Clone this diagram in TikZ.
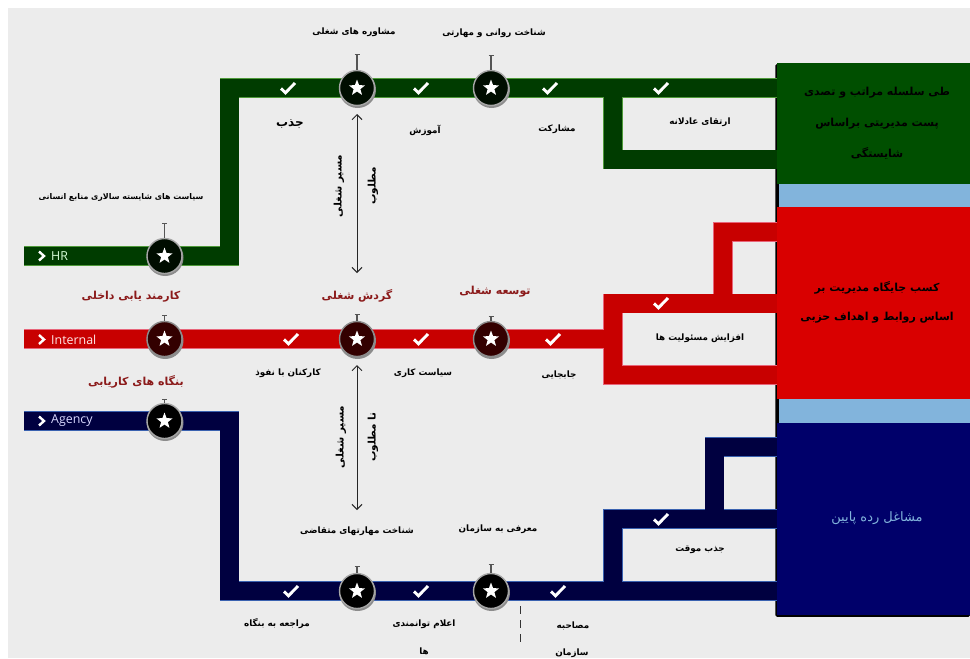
\documentclass[tikz,border=0pt]{standalone}
\usepackage{fontspec}
\usetikzlibrary{shapes.geometric,arrows.meta}
\TeXXeTstate=1
\newfontfamily\arabicfont[Script=Arabic]{DejaVu Sans}
\setsansfont{Open Sans}
\newcommand{\fa}[1]{\beginR #1\endR}
\definecolor{pagegrey}{HTML}{ECECEC}
\definecolor{gband}{HTML}{003C00}
\definecolor{gedge}{HTML}{4F9A3A}
\definecolor{gbox}{HTML}{004F00}
\definecolor{rband}{HTML}{C80000}
\definecolor{redge}{HTML}{E8657A}
\definecolor{rbox}{HTML}{D90000}
\definecolor{nband}{HTML}{000040}
\definecolor{nedge}{HTML}{3A62B0}
\definecolor{nbox}{HTML}{00006A}
\definecolor{lblue}{HTML}{82B4DC}
\definecolor{rlabel}{HTML}{8B1A1A}
\definecolor{stemgrey}{HTML}{555555}
\tikzset{
  x=1pt,y=-1pt,
  band/.style={line width=18.4pt,line cap=butt,line join=miter},
  bandedge/.style={line width=19.2pt,line cap=butt,line join=miter},
  goalbox/.style={draw=none,minimum width=193pt,inner sep=0pt,anchor=north west,align=center,text width=185pt},
  starcircle/.style={circle,minimum size=35pt,inner sep=0pt,draw=#1,line width=1.4pt},
  starmark/.style={star,star points=5,star point ratio=2.4,fill=white,draw=none,minimum size=17pt,inner sep=0pt},
  stem/.style={draw=stemgrey,line width=1.3pt,{Bar[width=5pt,length=0.8pt]}-},
  label/.style={font=\arabicfont\bfseries\fontsize{8.8}{10}\selectfont,inner sep=0pt,text=black},
  redlabel/.style={label,text=rlabel,font=\arabicfont\bfseries\fontsize{11}{13}\selectfont},
  boxlabel/.style={label,font=\arabicfont\bfseries\fontsize{11}{13}\selectfont},
  sidelabel/.style={label,rotate=90,font=\arabicfont\bfseries\fontsize{10.4}{12}\selectfont},
  routetag/.style={font=\sffamily\fontsize{12.4}{14}\selectfont,text=#1,inner sep=0pt,anchor=west},
  checkmark/.pic={\draw[white,line width=2.9pt,line cap=butt,line join=miter] (-7,0.5) -- (-2.5,4.8) -- (7,-5);},
  chev/.pic={\draw[white,line width=2.4pt] (-2.5,-4.5) -- (2.5,0) -- (-2.5,4.5);},
  careerarrow/.style={draw=black!85,line width=1pt,{Straight Barb[length=5pt,width=10pt]}-{Straight Barb[length=5pt,width=10pt]}}
}
\newcommand{\greenroutes}[1]{%
  \draw[#1] (gs) -- (gc1) -- (gc2) -- (gbox.west |- gc2);
  \draw[#1] (gb1) -- (gb2) -- (gbox.west |- gb2);}
\newcommand{\redroutes}[1]{%
  \draw[#1] (rs) -- (rb0) -- (rb1) -- (rbox.west |- rb1);
  \draw[#1] (rb0) -- (rb2) -- (rbox.west |- rb2);
  \draw[#1] (rb3) -- (rb4) -- (rbox.west |- rb4);}
\newcommand{\navyroutes}[1]{%
  \draw[#1] (ns) -- (nc1) -- (nc2) -- (nbox.west |- nc2);
  \draw[#1] (nb0) -- (nb1) -- (nbox.west |- nb1);
  \draw[#1] (nb3) -- (nb4) -- (nbox.west |- nb4);}
\begin{document}
\begin{tikzpicture}
\useasboundingbox (0,0) rectangle (970,659);
\fill[pagegrey] (8,8) rectangle (970,658);
% route coordinates
\coordinate (gs) at (24,256);\coordinate (gc1) at (229.6,256);\coordinate (gc2) at (229.6,88);
\coordinate (gb1) at (613,88);\coordinate (gb2) at (613,159.5);
\coordinate (rs) at (24,339);\coordinate (rb0) at (613,339);\coordinate (rb1) at (613,303.3);\coordinate (rb2) at (613,375);
\coordinate (rb3) at (723,303.3);\coordinate (rb4) at (723,232);
\coordinate (ns) at (24,421);\coordinate (nc1) at (229.6,421);\coordinate (nc2) at (229.6,591);
\coordinate (nb0) at (613,591);\coordinate (nb1) at (613,519);
\coordinate (nb3) at (714.3,519);\coordinate (nb4) at (714.3,447);
% goal boxes
\fill[black,rounded corners=1.5pt] (775.4,64) rectangle (970,616.8);
\node[goalbox,fill=gbox,minimum height=121pt] (gbox) at (777,63) {};
\node[goalbox,fill=lblue,minimum width=191pt,minimum height=23pt] (bluea) at (779,184) {};
\node[goalbox,fill=rbox,minimum height=192pt] (rbox) at (777,207) {};
\node[goalbox,fill=lblue,minimum width=191pt,minimum height=24pt] (blueb) at (779,399) {};
\node[goalbox,fill=nbox,minimum height=192pt] (nbox) at (777,423) {};
% routes
\greenroutes{bandedge,gedge}\redroutes{bandedge,redge}\navyroutes{bandedge,nedge}
\greenroutes{band,gband}\redroutes{band,rband}\navyroutes{band,nband}
% stations
\foreach \nm/\px/\py/\cf/\cr in {
  s1/164.5/256/black!95!green/black!35,
  s2/357/88/black!95!green/black!35,
  s3/491/88/black!95!green/black!35,
  s4/164.5/339/black!80!red/black!45,
  s5/357/339/black!80!red/black!45,
  s6/491/339/black!80!red/black!45,
  s7/164.5/421/black/black!35,
  s8/357/591/black/black!35,
  s9/491/591/black/black!35}{
  \fill[black!45] (\px+0.6,\py+1.6) circle (18.4pt);
  \node[starcircle=\cr,fill=\cf] (\nm) at (\px,\py) {};
  \node[starmark] at (\nm) {};
}
\coordinate (t1) at (164.5,223);\coordinate (t2) at (357,54);\coordinate (t3) at (491,55);
\coordinate (t4) at (164.5,315);\coordinate (t5) at (357,314);\coordinate (t6) at (491,316);
\coordinate (t7) at (164.5,399);\coordinate (t8) at (357,566);\coordinate (t9) at (491,564);
\foreach \i in {1,...,9}{\draw[stem] (t\i) -- (s\i.north);}
% checks
\foreach \px/\py in {288/88,421/88,550/88,661/88,291/339,421/339,553/339,661/303,291/591,421/591,558/591,661/519}
  \pic at (\px,\py) {checkmark};
% route tags
\pic at (41.5,256) {chev};\pic at (41.5,339.5) {chev};\pic at (41.5,421) {chev};
\node[routetag=white!85!green] (taghr) at (51,256) {HR};
\node[routetag=white!90!red] (tagint) at (51,339.5) {Internal};
\node[routetag=white!85!blue] (tagag) at (51,421) {Agency};
% career arrows
\coordinate (a1t) at (357,114);\coordinate (a1b) at (357,273);
\coordinate (a2t) at (357,365);\coordinate (a2b) at (357,510);
\draw[careerarrow] (a1t) -- (a1b);
\draw[careerarrow] (a2t) -- (a2b);
\node[sidelabel] (am1) at (339,186) {\fa{مسیر شغلی}};
\node[sidelabel] (am2) at (373,186) {\fa{مطلوب}};
\node[sidelabel] (am3) at (341,437) {\fa{مسیر شغلی}};
\node[sidelabel] (am4) at (373,437) {\fa{نا مطلوب}};
% dashed divider
\coordinate (da) at (520,606);\coordinate (db) at (520,643);
\draw[black!80,line width=0.9pt,dash pattern=on 8pt off 6pt] (da) -- (db);
% green labels
\node[label] (l1) at (354,32) {\fa{مشاوره های شغلی}};
\node[label] (l2) at (494,33) {\fa{شناخت روانی و مهارتی}};
\node[label,font=\arabicfont\bfseries\fontsize{12}{14}\selectfont] (l3) at (290,124) {\fa{جذب}};
\node[label] (l4) at (425,130) {\fa{آموزش}};
\node[label] (l5) at (557,129) {\fa{مشارکت}};
\node[label] (l6) at (700,122) {\fa{ارتقای عادلانه}};
\node[label,font=\arabicfont\bfseries\fontsize{7.9}{10}\selectfont] (l7) at (121,197) {\fa{سیاست های شایسته سالاری منابع انسانی}};
% red labels
\node[redlabel] (l8) at (131,297) {\fa{کارمند یابی داخلی}};
\node[redlabel] (l9) at (357,296) {\fa{گردش شغلی}};
\node[redlabel] (l10) at (495,292) {\fa{توسعه شغلی}};
\node[label] (l11) at (700,338) {\fa{افزایش مسئولیت ها}};
\node[label] (l12) at (288,373) {\fa{کارکنان با نفوذ}};
\node[label] (l13) at (423,373) {\fa{سیاست کاری}};
\node[label] (l14) at (559,375) {\fa{جابجایی}};
\node[redlabel] (l15) at (136,382) {\fa{بنگاه های کاریابی}};
% navy labels
\node[label] (l16) at (357,531) {\fa{شناخت مهارتهای متقاضی}};
\node[label] (l17) at (498,529) {\fa{معرفی به سازمان}};
\node[label] (l18) at (700,550) {\fa{جذب موقت}};
\node[label] (l19) at (277,624) {\fa{مراجعه به بنگاه}};
\node[label] (l20) at (424,624) {\fa{اعلام توانمندی}};
\node[label] (l21) at (424,651) {\fa{ها}};
\node[label] (l22) at (573,626) {\fa{مصاحبه}};
\node[label] (l23) at (572,653) {\fa{سازمان}};
% box texts
\node[boxlabel] (g1) at (877,93) {\fa{طی سلسله مراتب و تصدی}};
\node[boxlabel] (g2) at (877,124) {\fa{پست مدیریتی براساس}};
\node[boxlabel] (g3) at (877,153) {\fa{شایستگی}};
\node[boxlabel] (r1) at (877,288) {\fa{کسب جایگاه مدیریت بر}};
\node[boxlabel] (r2) at (877,318) {\fa{اساس روابط و اهداف حزبی}};
\node[label,text=lblue,font=\arabicfont\fontsize{13}{15}\selectfont] (n1) at (877,518) {\fa{مشاغل رده پایین}};
\end{tikzpicture}
\end{document}
